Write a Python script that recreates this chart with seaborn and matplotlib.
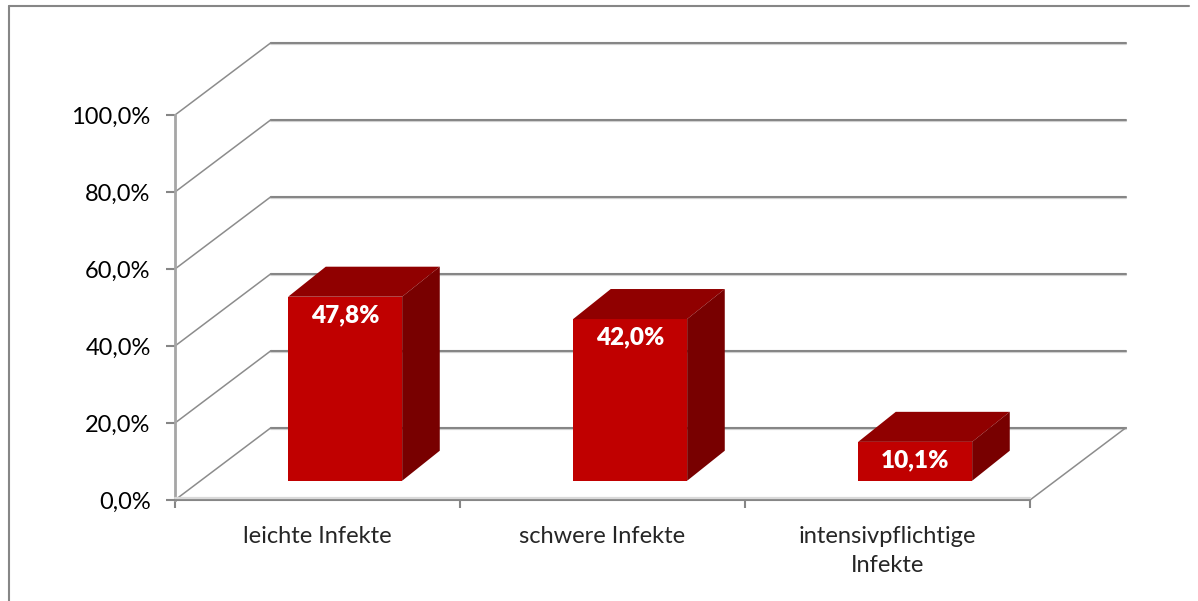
import matplotlib
matplotlib.use("Agg")
from matplotlib import pyplot as plt
from matplotlib.patches import Polygon
from matplotlib.lines import Line2D
from matplotlib.ticker import FuncFormatter, FixedLocator
import seaborn as sns
import pandas as pd

# data
categories = ['leichte Infekte', 'schwere Infekte', 'intensivpflichtige\nInfekte']
values = [47.8, 42.0, 10.1]
y_ticks = [0, 20, 40, 60, 80, 100]

# colours of the box faces
front_col = '#C00000'
top_col = '#900000'
side_col = '#780000'
grid_col = '#868686'

# 3d look: full depth of wall/floor and where the bars sit inside it
DX, DY = 0.337, 18.8
BAR_X0, BAR_Y0 = 0.097, 5.0    # front face offset
BAR_DX, BAR_DY = 0.132, 7.8    # depth of the bar itself

sns.set_style("white")
plt.rcParams['font.family'] = ['Lato', 'DejaVu Sans']

df = pd.DataFrame({'cat': categories, 'val': values})

fig = plt.figure(figsize=(11.98, 6.01), dpi=100)
ax = fig.add_axes([175 / 1198, 101 / 601, 855 / 1198, 385 / 601])

sns.barplot(data=df, x='cat', y='val', color=front_col, saturation=1, width=0.40,
            ax=ax, zorder=5)

ax.set_xlim(-0.5, 2.5)
ax.set_ylim(0, 100)

# back wall gridlines and the diagonals from the front axis
for t in y_ticks:
    ax.plot([-0.5 + DX, 2.5 + DX], [t + DY - 0.45, t + DY - 0.45], color='#d4d4d4',
            lw=1.6, clip_on=False, zorder=1)
    ax.plot([-0.5 + DX, 2.5 + DX], [t + DY, t + DY], color=grid_col,
            lw=1.5, clip_on=False, zorder=2)
    ax.plot([-0.5, -0.5 + DX], [t, t + DY], color='#8c8c8c', lw=1.1,
            clip_on=False, zorder=2)
# right edge of the floor
ax.plot([2.5, 2.5 + DX], [0, DY], color='#8c8c8c', lw=1.1, clip_on=False, zorder=2)
# front edge of the floor
ax.plot([-0.5, 2.5], [0.5, 0.5], color='#d9d9d9', lw=1.6, clip_on=False, zorder=3)

# turn the flat bars into boxes
for p, v in zip(ax.patches, values):
    x0 = p.get_x() + BAR_X0
    w = p.get_width()
    p.set_x(x0)
    p.set_y(BAR_Y0)
    p.set_edgecolor('none')
    top = BAR_Y0 + p.get_height()
    x1 = x0 + w
    ax.add_patch(Polygon([(x0, top), (x1, top), (x1 + BAR_DX, top + BAR_DY),
                          (x0 + BAR_DX, top + BAR_DY)], closed=True,
                         facecolor=top_col, edgecolor='none', zorder=5, clip_on=False))
    ax.add_patch(Polygon([(x1, BAR_Y0), (x1, top), (x1 + BAR_DX, top + BAR_DY),
                          (x1 + BAR_DX, BAR_Y0 + BAR_DY)], closed=True,
                         facecolor=side_col, edgecolor='none', zorder=5, clip_on=False))
    ax.text(x0 + w / 2, top - 4.7, f"{v:.1f}".replace('.', ',') + '%',
            ha='center', va='center', color='white', fontsize=17.5,
            fontweight='heavy', zorder=6)

# axes styling
for s in ['top', 'right']:
    ax.spines[s].set_visible(False)
ax.spines['left'].set_color('#a6a6a6')
ax.spines['left'].set_linewidth(2)
ax.spines['bottom'].set_color(grid_col)
ax.spines['bottom'].set_linewidth(1.5)

ax.yaxis.set_major_locator(FixedLocator(y_ticks))
ax.yaxis.set_major_formatter(FuncFormatter(lambda v, pos: f"{v:.1f}".replace('.', ',') + '%'))
ax.tick_params(axis='y', length=6.5, width=1.5, color=grid_col, pad=11,
               labelsize=17, labelcolor='black', left=True)

ax.set_xticks([0, 1, 2])
ax.set_xticklabels(categories, linespacing=1.45, multialignment='center')
ax.set_xticks([-0.5, 0.5, 1.5, 2.5], minor=True)
ax.tick_params(axis='x', which='major', length=0, pad=19, labelsize=17)
ax.tick_params(axis='x', which='minor', length=6, width=1.5, color=grid_col, bottom=True)
ax.set_xlabel('')
ax.set_ylabel('')

# outer chart frame (left and top edges only are visible)
fig.add_artist(Line2D([9 / 1198, 9 / 1198], [0, 1 - 6 / 601], color=grid_col, lw=1.5))
fig.add_artist(Line2D([9 / 1198, 1189 / 1198], [1 - 6 / 601, 1 - 6 / 601], color=grid_col, lw=1.5))

fig.savefig('out.png', dpi=100, facecolor='white')
